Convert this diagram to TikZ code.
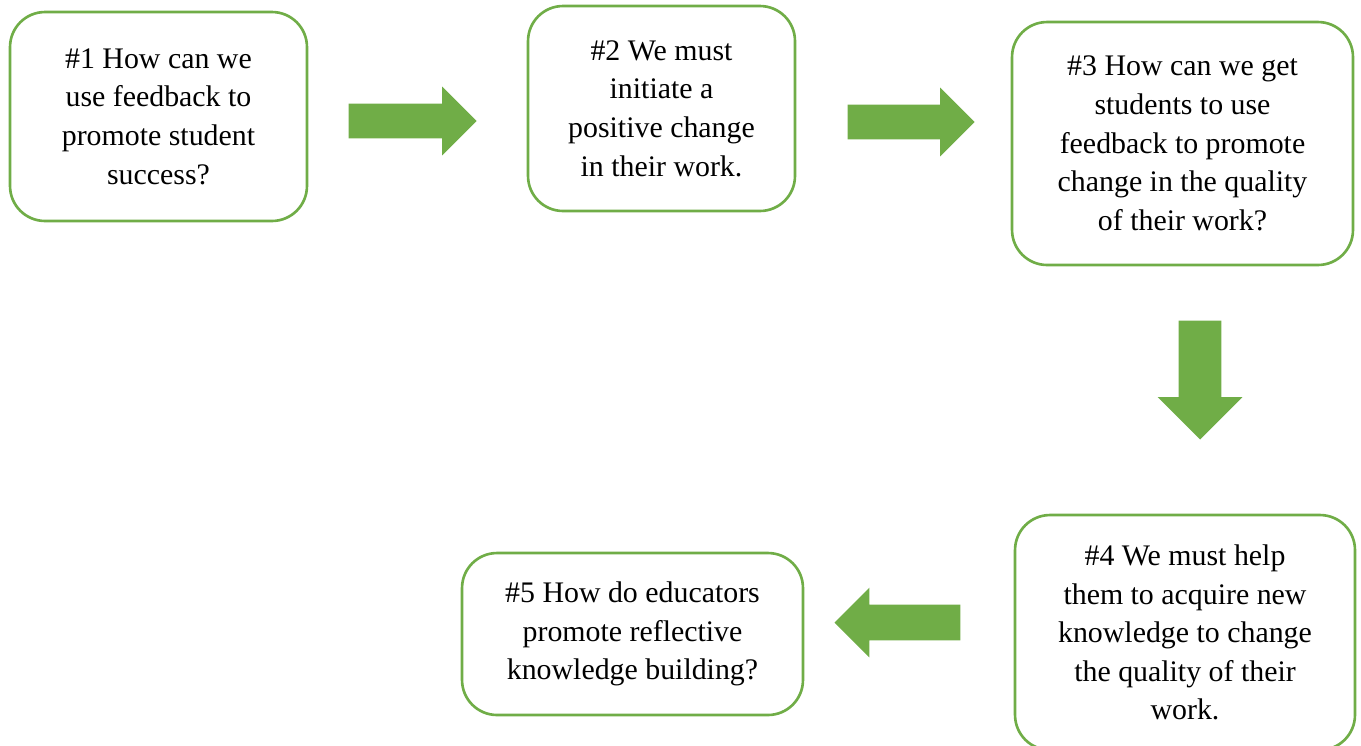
\documentclass[tikz,border=0pt]{standalone}
\usepackage{fontspec}
\setmainfont{Liberation Serif}
\usepackage{tikz}
\usetikzlibrary{shapes, arrows}
\definecolor{leafgreen}{HTML}{70AD47}
\tikzset{
	question/.style={
		rectangle, draw=leafgreen, line width=1.5pt, rounded corners=0.7cm,
		fill=white, align=center, inner sep=0pt,
		font=\fontsize{17}{22}\selectfont
	},
	bigarrow/.style={
		single arrow, fill=leafgreen, draw=none, anchor=tip,
		inner sep=0pt, single arrow tip angle=90
	},
}

\begin{document}
\begin{tikzpicture}[x=0.02cm, y=-0.02cm]
	\useasboundingbox (0,0) rectangle (1361,745);
	% the five questions
	\node (q1) [question, minimum width=5.94cm, minimum height=4.18cm] at (158.5,116.5)
		{\#1 How can we\\ use feedback to\\ promote student\\ success?};
	\node (q2) [question, minimum width=5.34cm, minimum height=4.10cm] at (661.5,108.5)
		{\#2 We must\\ initiate a\\ positive change\\ in their work.};
	\node (q3) [question, minimum width=6.82cm, minimum height=4.86cm] at (1182.5,143.5)
		{\#3 How can we get\\ students to use\\ feedback to promote\\ change in the quality\\ of their work?};
	\node (q4) [question, minimum width=6.80cm, minimum height=4.70cm] at (1185,632.5)
		{\#4 We must help\\ them to acquire new\\ knowledge to change\\ the quality of their\\ work.};
	\node (q5) [question, minimum width=6.82cm, minimum height=3.24cm] at (632.5,634)
		{\#5 How do educators\\ promote reflective\\ knowledge building?};
	% block arrows between them (placed by their tips)
	\node (a12) [bigarrow, minimum height=2.56cm, inner ysep=0.34cm, single arrow head extend=0.34cm] at (477,121) {};
	\node (a23) [bigarrow, minimum height=2.54cm, inner ysep=0.34cm, single arrow head extend=0.34cm] at (975,122) {};
	\node (a34) [bigarrow, minimum height=2.38cm, inner xsep=0.42cm, single arrow head extend=0.42cm, shape border rotate=270] at (1200,440) {};
	\node (a45) [bigarrow, minimum height=2.52cm, inner ysep=0.35cm, single arrow head extend=0.34cm, shape border rotate=180] at (834,622.5) {};
\end{tikzpicture}
\end{document}
